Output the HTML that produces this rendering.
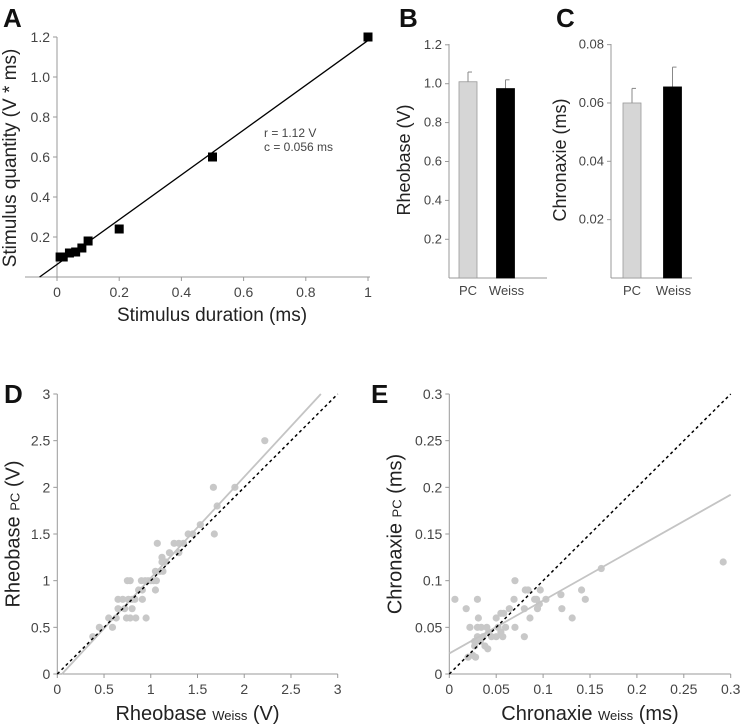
<!DOCTYPE html>
<html><head><meta charset="utf-8"><style>
html,body{margin:0;padding:0;background:#fff;}
svg{display:block;font-family:"Liberation Sans",Arial,sans-serif;}
.t{font-size:13px;fill:#444;}
.ti{font-size:18px;fill:#222;}
.pl{font-size:26px;font-weight:bold;fill:#111;}
</style></head><body>
<svg id="fig" width="740" height="726" viewBox="0 0 740 726" xmlns="http://www.w3.org/2000/svg">
<text class="pl" x="3" y="27">A</text>
<text class="pl" x="399" y="27">B</text>
<text class="pl" x="556" y="27">C</text>
<text class="pl" x="4" y="403">D</text>
<text class="pl" x="371" y="403">E</text>
</svg>
<script>
// Panel A data
const aDur=[0.01,0.02,0.04,0.06,0.08,0.1,0.2,0.5,1];
const aQty=[0.1,0.1,0.12,0.125,0.145,0.18,0.24,0.6,1.2];
const aFit=[1.12,0.056];
const aXTicks=[0,0.2,0.4,0.6,0.8,1];
const aYTicks=['0.2','0.4','0.6','0.8','1.0','1.2'];
// Panel B/C
const barCats=['PC','Weiss'];
const rheoMean=[1.01,0.975];
const rheoErr=[0.05,0.045];
const chronMean=[0.06,0.0655];
const chronErr=[0.005,0.0068];
const bTicks=['0.2','0.4','0.6','0.8','1.0','1.2'];
const cTicks=['0.02','0.04','0.06','0.08'];
// Panel D
const dX=[0.38,0.45,0.55,0.59,0.63,0.65,0.65,0.7,0.72,0.75,0.78,0.74,0.78,0.76,0.8,0.8,0.83,0.84,0.87,0.9,0.91,0.91,0.94,0.95,0.97,1.0,1.03,1.05,1.05,1.06,1.07,1.1,1.12,1.13,1.12,1.16,1.2,1.25,1.3,1.3,1.35,1.4,1.45,1.53,1.67,1.68,1.71,1.9,2.22];
const dY=[0.4,0.5,0.6,0.5,0.6,0.8,0.7,0.8,0.7,1.0,1.0,0.6,0.6,0.8,0.8,0.7,0.8,0.6,0.9,1.0,0.9,0.8,1.0,0.6,1.0,1.0,1.0,1.1,0.9,1.0,1.4,1.1,1.25,1.1,1.2,1.2,1.3,1.4,1.3,1.4,1.4,1.5,1.5,1.6,2.0,1.5,1.8,2.0,2.5];
const dFit=[1.083,-0.054];
const dTicks=['0','0.5','1','1.5','2','2.5','3'];
// Panel E
const eX=[0.006,0.018,0.022,0.02,0.025,0.028,0.03,0.031,0.03,0.027,0.027,0.03,0.033,0.034,0.036,0.038,0.04,0.041,0.042,0.045,0.05,0.05,0.052,0.055,0.055,0.057,0.058,0.06,0.064,0.069,0.07,0.07,0.08,0.08,0.081,0.084,0.086,0.091,0.093,0.094,0.096,0.097,0.103,0.119,0.12,0.131,0.141,0.145,0.162,0.292];
const eY=[0.08,0.07,0.05,0.018,0.02,0.018,0.08,0.06,0.05,0.03,0.035,0.04,0.035,0.05,0.04,0.03,0.05,0.027,0.045,0.04,0.04,0.06,0.05,0.065,0.045,0.04,0.065,0.05,0.07,0.08,0.1,0.05,0.07,0.04,0.09,0.09,0.06,0.08,0.08,0.07,0.075,0.09,0.08,0.085,0.07,0.06,0.09,0.08,0.113,0.12];
const eFit=[0.567,0.022];
const eTicks=['0','0.05','0.1','0.15','0.2','0.25','0.3'];

const svg=document.getElementById('fig');
const NS='http://www.w3.org/2000/svg';
function mk(tag,at,parent){const e=document.createElementNS(NS,tag);for(const k in at)e.setAttribute(k,at[k]);(parent||svg).appendChild(e);return e;}
function txt(s,x,y,cls,anchor){const e=mk('text',{x:x,y:y,class:cls,'text-anchor':anchor||'middle'});e.textContent=s;return e;}
const AX='#999';

// ---------- Panel A ----------
const ax=v=>57+v*311, ay=v=>277-v*200;
let g=mk('g',{});


let l=mk('line',{x1:25,y1:277,x2:370,y2:277,stroke:AX},g);

l=mk('line',{x1:57,y1:277,x2:57,y2:37,stroke:AX},g);

aXTicks.forEach(v=>{mk('line',{x1:ax(v),y1:277,x2:ax(v),y2:281,stroke:AX},g);
 const t=txt(String(v),ax(v),297,'t');t.setAttribute('style','font-size:14px');g.appendChild(t);});
aYTicks.forEach(s=>{const v=+s;mk('line',{x1:53,y1:ay(v),x2:57,y2:ay(v),stroke:AX},g);
 const t=txt(s,50,ay(v)+5,'t','end');t.setAttribute('style','font-size:14px');g.appendChild(t);});
const fitY=x=>aFit[0]*(x+aFit[1]);
l=mk('line',{x1:ax(-0.056),y1:ay(fitY(-0.056)),x2:ax(1),y2:ay(fitY(1)),stroke:'#000','stroke-width':1.3},g);

aDur.forEach((d,i)=>{const r=mk('rect',{x:ax(d)-4.5,y:ay(aQty[i])-4.5,width:9,height:9,fill:'#000'},g);
 });
let t=txt('r = 1.12 V',264,137,'t','start');t.setAttribute('style','font-size:12px');
t=txt('c = 0.056 ms',264,151,'t','start');t.setAttribute('style','font-size:12px');
t=txt('Stimulus duration (ms)',212,321,'ti');t.setAttribute('style','font-size:19px');
t=txt('Stimulus quantity (V * ms)',0,0,'ti');t.setAttribute('style','font-size:19px');t.setAttribute('transform','translate(16,158) rotate(-90)');

// ---------- Bar panels ----------
function barPanel(name,axX,axEnd,yScale,ticks,means,errs,barX,title,titleX){
 const gg=mk('g',{});
 
 
 let a=mk('line',{x1:axX,y1:278,x2:axEnd,y2:278,stroke:AX},gg);
 a=mk('line',{x1:axX,y1:278,x2:axX,y2:44,stroke:AX},gg);
 ticks.forEach(s=>{const y=yScale(+s);mk('line',{x1:axX-4,y1:y,x2:axX,y2:y,stroke:AX},gg);
  const tt=txt(s,axX-7,y+4,'t','end');gg.appendChild(tt);});
 means.forEach((m,i)=>{const cx=barX[i];const top=yScale(m),et=yScale(m+errs[i]);
  const e=mk('line',{x1:cx,y1:top,x2:cx,y2:et,stroke:'#888'},gg);
  mk('line',{x1:cx,y1:et,x2:cx+4,y2:et,stroke:'#888'},gg);
  const r=mk('rect',{x:cx-9,y:top,width:18,height:278-top,fill:i?'#000':'#d6d6d6',stroke:i?'#000':'#999','stroke-width':0.8},gg);
  
  const tt=txt(barCats[i],cx+(i?1:0),295,'t');gg.appendChild(tt);});
 const tt=txt(title,0,0,'ti');tt.setAttribute('transform','translate('+titleX+',160) rotate(-90)');gg.appendChild(tt);
 
}
barPanel('panel-b-rheobase-bars',449,547,v=>278.2-v*194.5,bTicks,rheoMean,rheoErr,[468,505.5],'Rheobase (V)',410);
barPanel('panel-c-chronaxie-bars',611,692,v=>278-v*2917,cTicks,chronMean,chronErr,[632,672.5],'Chronaxie (ms)',566);

// ---------- Scatter panels ----------
function scatter(name,x0,x1,vmax,ticks,xs,ys,fit,label,unit){
 const sx=v=>x0+v/vmax*(x1-x0), sy=v=>674-v/vmax*280;
 const gg=mk('g',{});
 
 
 let a=mk('line',{x1:x0,y1:674,x2:x1,y2:674,stroke:AX},gg);
 a=mk('line',{x1:x0,y1:674,x2:x0,y2:394,stroke:AX},gg);
 ticks.forEach(s=>{const v=+s;mk('line',{x1:sx(v),y1:674,x2:sx(v),y2:678,stroke:AX},gg);mk('line',{x1:x0-4,y1:sy(v),x2:x0,y2:sy(v),stroke:AX},gg);
  let tt=txt(s,sx(v),694,'t');tt.setAttribute('style','font-size:14px');gg.appendChild(tt);
  tt=txt(s,x0-7,sy(v)+5,'t','end');tt.setAttribute('style','font-size:14px');gg.appendChild(tt);});
 xs.forEach((x,i)=>{const c=mk('circle',{cx:sx(x),cy:sy(ys[i]),r:3.6,fill:'#c8c8c8'},gg);});
 let xa=Math.max(0,-fit[1]/fit[0]), xb=Math.min(vmax,(vmax-fit[1])/fit[0]);
 let f=mk('line',{x1:sx(xa),y1:sy(fit[0]*xa+fit[1]),x2:sx(xb),y2:sy(fit[0]*xb+fit[1]),stroke:'#c4c4c4','stroke-width':1.8},gg);
 
 f=mk('line',{x1:sx(0),y1:sy(0),x2:sx(vmax),y2:sy(vmax),stroke:'#000','stroke-width':1.5,'stroke-dasharray':'3,3'},gg);
 
 const mid=(x0+x1)/2;
 let tt=mk('text',{x:mid,y:720,'text-anchor':'middle',style:'font-size:20px;fill:#222'},gg);
 tt.innerHTML=label+' <tspan style="font-size:13px">Weiss</tspan> '+unit;
 
 tt=mk('text',{x:0,y:0,'text-anchor':'middle',style:'font-size:20px;fill:#222',transform:'translate('+(x0-(vmax<1?48:38))+',534) rotate(-90)'},gg);
 tt.innerHTML=label+' <tspan style="font-size:13px">PC</tspan> '+unit;
 
}
scatter('panel-d-rheobase-scatter',57.3,337.7,3,dTicks,dX,dY,dFit,'Rheobase','(V)');
scatter('panel-e-chronaxie-scatter',449.3,730.7,0.3,eTicks,eX,eY,eFit,'Chronaxie','(ms)');
</script>
</body></html>
